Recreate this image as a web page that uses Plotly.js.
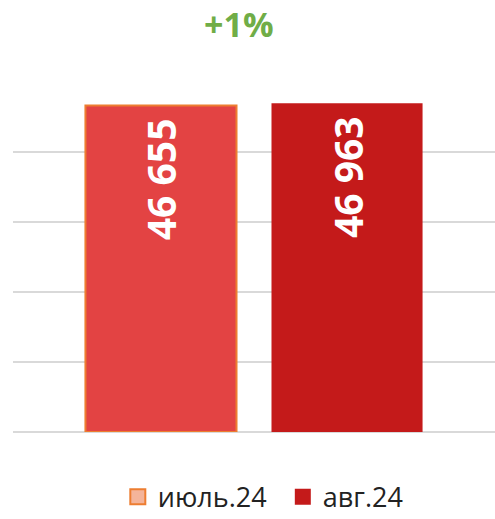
<!DOCTYPE html>
<html><head><meta charset="utf-8">
<script src="https://cdn.plot.ly/plotly-3.0.1.min.js"></script>
<style>body{margin:0;padding:0;background:#fff}#chart{width:495px;height:519px}</style>
</head><body><div id="chart"></div>
<script>
const categories = ["Численность"];
const seriesNames = ["июль.24", "авг.24"];
const julValues = [46655];
const augValues = [46963];
const changeLabel = "+1%";
const yTicks = [0, 10000, 20000, 30000, 40000];

function fmt(v){ return String(v).replace(/\B(?=(\d{3})+(?!\d))/g, " ") + "\u00a0"; }

const textFont = {family: "Open Sans", size: 39, color: "#ffffff", weight: 700};

const traces = [
  {type: "bar", x: categories, y: julValues, name: seriesNames[0], showlegend: false, offsetgroup: "a",
   marker: {color: "#E34343", line: {color: "#ED7D31", width: 2}},
   text: julValues.map(fmt), textposition: "inside", insidetextanchor: "end", textangle: -90,
   textfont: textFont, hoverinfo: "skip"},
  {type: "bar", x: categories, y: augValues, name: seriesNames[1], showlegend: false, offsetgroup: "b",
   marker: {color: "#C41A1A", line: {width: 0}},
   text: augValues.map(fmt), textposition: "inside", insidetextanchor: "end", textangle: -90,
   textfont: textFont, hoverinfo: "skip"},
  {type: "scatter", mode: "markers", x: categories, y: [null], name: seriesNames[0], showlegend: true,
   marker: {symbol: "square", size: 15, color: "#F4B49A", line: {color: "#ED7D31", width: 2}}},
  {type: "scatter", mode: "markers", x: categories, y: [null], name: seriesNames[1], showlegend: true,
   marker: {symbol: "square", size: 16, color: "#C41A1A", line: {width: 0}}}
];

const layout = {
  width: 495, height: 519,
  margin: {l: 13, r: 0, t: 82, b: 87},
  paper_bgcolor: "#ffffff", plot_bgcolor: "#ffffff",
  barmode: "group", bargap: 0.228, bargroupgap: 0.188,
  showlegend: true,
  legend: {orientation: "h", xref: "container", yref: "container", x: 0.238, xanchor: "left",
           y: 0.042, yanchor: "middle",
           font: {family: "Open Sans", size: 27, color: "#222222"}, traceorder: "normal",
           itemwidth: 30, entrywidth: 120},
  xaxis: {showticklabels: false, showgrid: false, zeroline: false, showline: false, ticks: ""},
  yaxis: {range: [0, 50000], tickvals: yTicks, showticklabels: false, showgrid: true,
          gridcolor: "#D9D9D9", gridwidth: 1.5, zeroline: true, zerolinecolor: "#D9D9D9",
          zerolinewidth: 2, showline: false, ticks: ""},
  annotations: [{text: changeLabel, xref: "paper", yref: "paper", x: 0.468, y: 1, yshift: 58,
                 xanchor: "center", yanchor: "middle", showarrow: false,
                 font: {family: "Open Sans", size: 34, color: "#70AD47", weight: 700}}]
};

Plotly.newPlot("chart", traces, layout, {displayModeBar: false, staticPlot: true});
</script></body></html>
